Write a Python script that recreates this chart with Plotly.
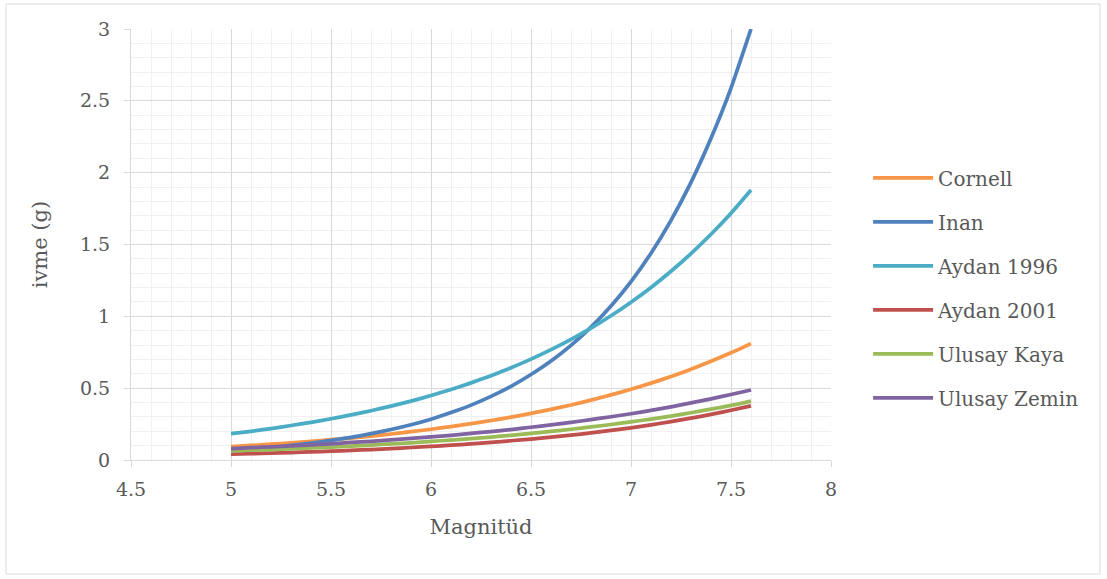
import plotly.graph_objects as go

magnitude = [5.0, 5.1, 5.2, 5.3, 5.4, 5.5, 5.6, 5.7, 5.8, 5.9, 6.0, 6.1, 6.2, 6.3,
             6.4, 6.5, 6.6, 6.7, 6.8, 6.9, 7.0, 7.1, 7.2, 7.3, 7.4, 7.5, 7.6]

cornell = [0.093, 0.101, 0.110, 0.119, 0.130, 0.141, 0.153, 0.167, 0.181, 0.197,
           0.214, 0.232, 0.253, 0.275, 0.298, 0.324, 0.353, 0.383, 0.417, 0.453,
           0.492, 0.535, 0.581, 0.632, 0.687, 0.746, 0.810]
inan = [0.065, 0.075, 0.087, 0.101, 0.117, 0.136, 0.158, 0.183, 0.212, 0.245,
        0.284, 0.330, 0.382, 0.443, 0.513, 0.595, 0.689, 0.798, 0.925, 1.072,
        1.242, 1.439, 1.668, 1.932, 2.239, 2.589, 3.000]
aydan1996 = [0.183, 0.200, 0.219, 0.240, 0.262, 0.287, 0.314, 0.343, 0.375, 0.410,
             0.449, 0.491, 0.537, 0.587, 0.642, 0.702, 0.768, 0.840, 0.918, 1.004,
             1.098, 1.201, 1.314, 1.437, 1.571, 1.718, 1.880]
aydan2001 = [0.040, 0.044, 0.048, 0.052, 0.056, 0.061, 0.067, 0.073, 0.080, 0.087,
             0.095, 0.103, 0.112, 0.123, 0.134, 0.146, 0.159, 0.173, 0.189, 0.206,
             0.224, 0.245, 0.267, 0.291, 0.317, 0.346, 0.377]
ulusay_kaya = [0.063, 0.068, 0.073, 0.078, 0.084, 0.090, 0.097, 0.104, 0.112, 0.120,
               0.129, 0.139, 0.149, 0.160, 0.172, 0.185, 0.199, 0.214, 0.230, 0.247,
               0.265, 0.285, 0.306, 0.329, 0.354, 0.380, 0.410]
ulusay_zemin = [0.080, 0.086, 0.092, 0.099, 0.106, 0.113, 0.122, 0.130, 0.140, 0.150,
                0.161, 0.172, 0.185, 0.198, 0.212, 0.228, 0.244, 0.262, 0.281, 0.301,
                0.322, 0.345, 0.370, 0.397, 0.426, 0.456, 0.487]

series = [
    ("Cornell", cornell, "#F79646"),
    ("Inan", inan, "#4F81BD"),
    ("Aydan 1996", aydan1996, "#4BACC6"),
    ("Aydan 2001", aydan2001, "#C0504D"),
    ("Ulusay Kaya", ulusay_kaya, "#9BBB59"),
    ("Ulusay Zemin", ulusay_zemin, "#8064A2"),
]

FONT = "DejaVu Serif"
TXT = "#595959"

fig = go.Figure()
for i, (name, vals, col) in enumerate(series):
    fig.add_trace(go.Scatter(
        x=magnitude, y=vals, name=name, mode="lines",
        line=dict(color=col, width=3.75, shape="spline", smoothing=0.5),
        legendgroup=f"g{i}",
    ))

fig.update_layout(
    width=1107, height=579,
    margin=dict(l=131, r=276, t=29, b=119),
    paper_bgcolor="white", plot_bgcolor="white",
    font=dict(family=FONT, color=TXT, size=19),
    showlegend=True,
    legend=dict(
        x=1.053, y=0.70, xanchor="left", yanchor="top",
        font=dict(family=FONT, size=20, color=TXT),
        tracegroupgap=15, itemwidth=60,
        bgcolor="rgba(0,0,0,0)",
    ),
    xaxis=dict(
        range=[4.5, 8], dtick=0.5, tick0=4.5,
        showgrid=True, gridcolor="#d9d9d9", gridwidth=1,
        minor=dict(dtick=0.1, showgrid=True, gridcolor="#f0f0f0", gridwidth=1),
        showline=True, linecolor="#d9d9d9", linewidth=1,
        ticks="outside", ticklen=6, tickcolor="#d9d9d9",
        ticklabelstandoff=6,
        zeroline=False,
        tickfont=dict(family=FONT, size=19, color=TXT),
        title=dict(text="Magnitüd", font=dict(family=FONT, size=21, color=TXT), standoff=20),
    ),
    yaxis=dict(
        range=[0, 3], dtick=0.5, tick0=0,
        showgrid=True, gridcolor="#d9d9d9", gridwidth=1,
        minor=dict(dtick=0.1, showgrid=True, gridcolor="#f0f0f0", gridwidth=1),
        showline=True, linecolor="#d9d9d9", linewidth=1,
        ticks="outside", ticklen=6, tickcolor="#d9d9d9",
        ticklabelstandoff=10,
        zeroline=False,
        tickfont=dict(family=FONT, size=19, color=TXT),
        title=dict(text="ivme (g)", font=dict(family=FONT, size=21, color=TXT), standoff=26),
    ),
    shapes=[dict(
        type="rect", xref="paper", yref="paper",
        x0=-0.1786, x1=1.3843, y0=-0.2645, y1=1.058,
        line=dict(color="#d9d9d9", width=1), fillcolor="rgba(0,0,0,0)", layer="below",
    )],
)

fig.write_html("out.html")
